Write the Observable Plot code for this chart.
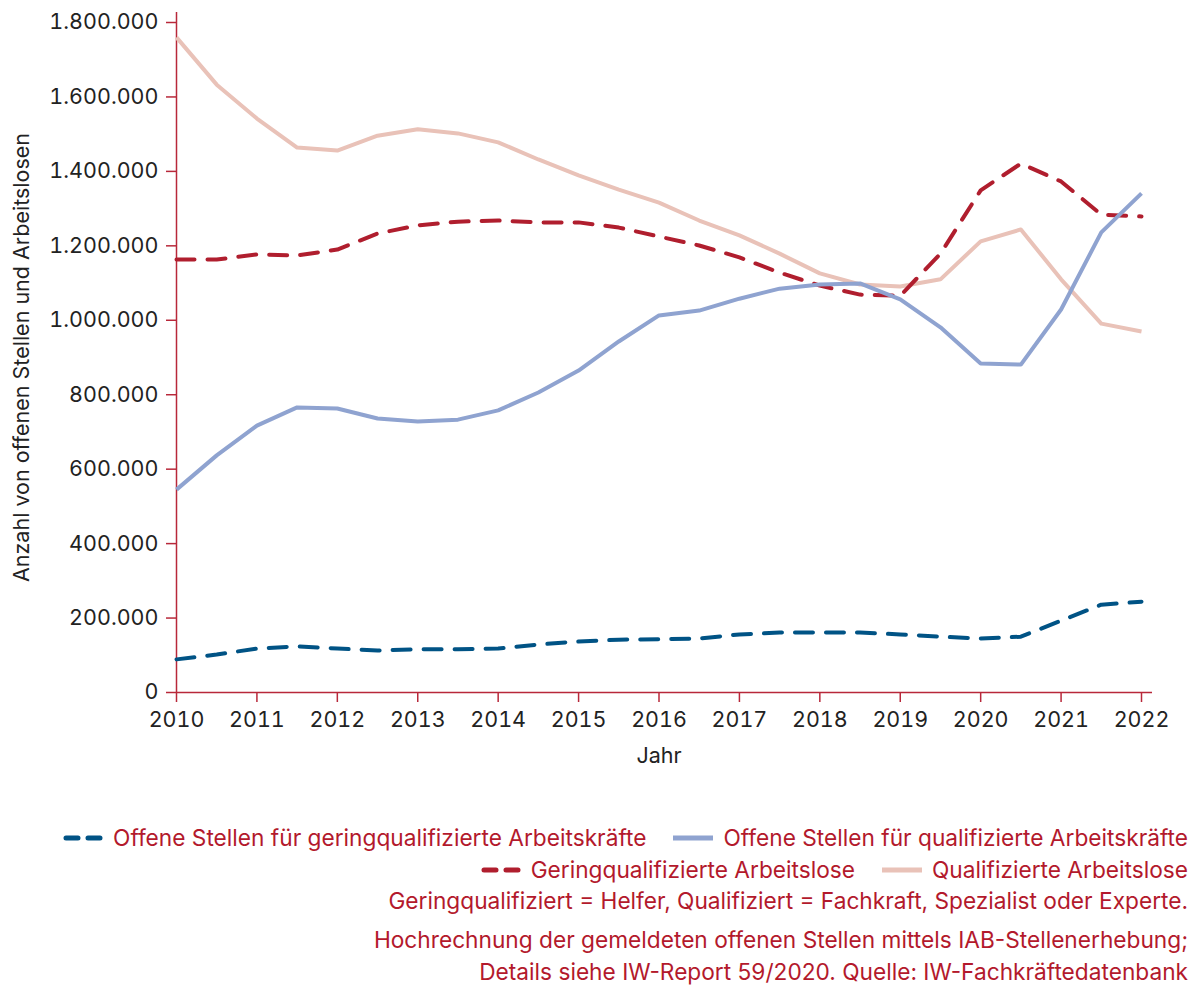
<!DOCTYPE html>
<html>
<head>
<meta charset="utf-8">
<script src="https://cdn.jsdelivr.net/npm/d3@7"></script>
<script src="https://cdn.jsdelivr.net/npm/@observablehq/plot@0.6"></script>
<style>
  body { margin: 0; background: #fff; font-family: "Inter", "Roboto", sans-serif; }
  #chart svg { display: block; }
  #legend { padding-right: 5px; padding-top: 19px; text-align: right; color: #b3192c; font-size: 22.7px; }
  .row { height: 32px; line-height: 32px; white-space: nowrap; }
  .item { display: inline-flex; align-items: center; margin-left: 27px; }
  .item svg { margin-right: 10px; }
  .cap1 { height: 32px; line-height: 32px; margin-top: 2px; margin-bottom: 7px; white-space: nowrap; }
  .cap { height: 32px; line-height: 32px; white-space: nowrap; }
</style>
</head>
<body>
<div id="chart"></div>
<div id="legend"></div>
<script>
const years = [2010, 2010.5, 2011, 2011.5, 2012, 2012.5, 2013, 2013.5, 2014, 2014.5, 2015, 2015.5, 2016, 2016.5, 2017, 2017.5, 2018, 2018.5, 2019, 2019.5, 2020, 2020.5, 2021, 2021.5, 2022];
const xTicks = [2010, 2011, 2012, 2013, 2014, 2015, 2016, 2017, 2018, 2019, 2020, 2021, 2022];
const yTicks = [0, 200000, 400000, 600000, 800000, 1000000, 1200000, 1400000, 1600000, 1800000];

// values in thousands
const offeneGering = [89, 102, 118, 124, 118, 113, 116, 116, 118, 129, 137, 142, 143, 145, 156, 161, 161, 161, 156, 150, 145, 150, 193, 236, 244];
const offeneQuali = [545, 637, 717, 766, 763, 736, 728, 733, 758, 806, 865, 943, 1013, 1026, 1058, 1085, 1096, 1099, 1056, 981, 884, 881, 1029, 1236, 1341];
const arbeitsloseGering = [1163, 1163, 1177, 1174, 1190, 1233, 1255, 1265, 1268, 1263, 1263, 1249, 1225, 1201, 1169, 1128, 1093, 1069, 1066, 1179, 1349, 1421, 1373, 1284, 1279];
const arbeitsloseQuali = [1760, 1633, 1542, 1464, 1456, 1496, 1513, 1502, 1478, 1432, 1389, 1351, 1316, 1268, 1228, 1179, 1126, 1096, 1091, 1110, 1212, 1244, 1110, 991, 970];

const seriesNames = [
  "Offene Stellen für geringqualifizierte Arbeitskräfte",
  "Offene Stellen für qualifizierte Arbeitskräfte",
  "Geringqualifizierte Arbeitslose",
  "Qualifizierte Arbeitslose"
];
const seriesColors = ["#005385", "#8fa3d0", "#b01e2e", "#e9c2b8"];
const seriesDashed = [true, false, true, false];
const seriesValues = [offeneGering, offeneQuali, arbeitsloseGering, arbeitsloseQuali];

const captions = [
  "Geringqualifiziert = Helfer, Qualifiziert = Fachkraft, Spezialist oder Experte.",
  "Hochrechnung der gemeldeten offenen Stellen mittels IAB-Stellenerhebung;",
  "Details siehe IW-Report 59/2020. Quelle: IW-Fachkräftedatenbank"
];
const yLabel = "Anzahl von offenen Stellen und Arbeitslosen";
const xLabel = "Jahr";

const axisColor = "#b8283a";
const de = d3.formatLocale({decimal: ",", thousands: ".", grouping: [3], currency: ["", " €"]});
const fmt = de.format(",");

const rows = seriesValues.map((vals, i) => vals.map((v, j) => ({year: years[j], value: v * 1000, series: i})));

const drawOrder = [3, 2, 1, 0];
const lineMarks = drawOrder.map(i => Plot.line(rows[i], {
  x: "year", y: "value",
  stroke: seriesColors[i],
  strokeWidth: 4,
  strokeDasharray: seriesDashed[i] ? "18,13" : null,
  strokeLinecap: seriesDashed[i] ? "round" : "butt",
  strokeLinejoin: "round"
}));

const plot = Plot.plot({
  width: 1193,
  height: 800,
  marginLeft: 176,
  marginRight: 41,
  marginTop: 12,
  marginBottom: 108,
  style: {fontFamily: "Inter, Roboto, sans-serif", fontSize: "21.5px", color: "#222"},
  x: {domain: [2010, 2022], range: [176, 1141]},
  y: {domain: [0, 1800000], range: [692, 22]},
  marks: [
    Plot.axisX({ticks: xTicks, tickFormat: d => String(d), tickSize: 10, tickPadding: 9, stroke: axisColor, strokeWidth: 1.5, fill: "#222", label: null, fontSize: 21.5}),
    Plot.axisY({ticks: yTicks, tickFormat: fmt, tickSize: 10, tickPadding: 8, stroke: axisColor, strokeWidth: 1.5, fill: "#222", label: null, fontSize: 21.5}),
    Plot.ruleX([2010], {stroke: axisColor, strokeWidth: 1.5}),
    Plot.ruleY([0], {stroke: axisColor, strokeWidth: 1.5}),
    ...lineMarks,
    Plot.text([yLabel], {frameAnchor: "left", textAnchor: "middle", rotate: -90, dx: -154, dy: 5, fontSize: 21.5, fill: "#222"}),
    Plot.text([xLabel], {x: () => 2016, frameAnchor: "bottom", dy: 70, fontSize: 21.5, fill: "#222"})
  ]
});
document.getElementById("chart").appendChild(plot);

function swatch(color, dashed) {
  const ns = "http://www.w3.org/2000/svg";
  const s = document.createElementNS(ns, "svg");
  s.setAttribute("width", 40); s.setAttribute("height", 10);
  const l = document.createElementNS(ns, "line");
  l.setAttribute("x1", dashed ? 3 : 0); l.setAttribute("x2", dashed ? 37 : 40);
  l.setAttribute("y1", 5); l.setAttribute("y2", 5);
  l.setAttribute("stroke", color); l.setAttribute("stroke-width", 5);
  if (dashed) { l.setAttribute("stroke-dasharray", "12,10"); l.setAttribute("stroke-linecap", "round"); }
  s.appendChild(l);
  return s;
}
const legend = document.getElementById("legend");
[[0, 1], [2, 3]].forEach(pair => {
  const row = document.createElement("div");
  row.className = "row";
  pair.forEach(i => {
    const it = document.createElement("span");
    it.className = "item";
    it.appendChild(swatch(seriesColors[i], seriesDashed[i]));
    const t = document.createElement("span");
    t.textContent = seriesNames[i];
    it.appendChild(t);
    row.appendChild(it);
  });
  legend.appendChild(row);
});
captions.forEach((c, k) => {
  const d = document.createElement("div");
  d.className = k === 0 ? "cap1" : "cap";
  d.textContent = c;
  legend.appendChild(d);
});
</script>
</body>
</html>
